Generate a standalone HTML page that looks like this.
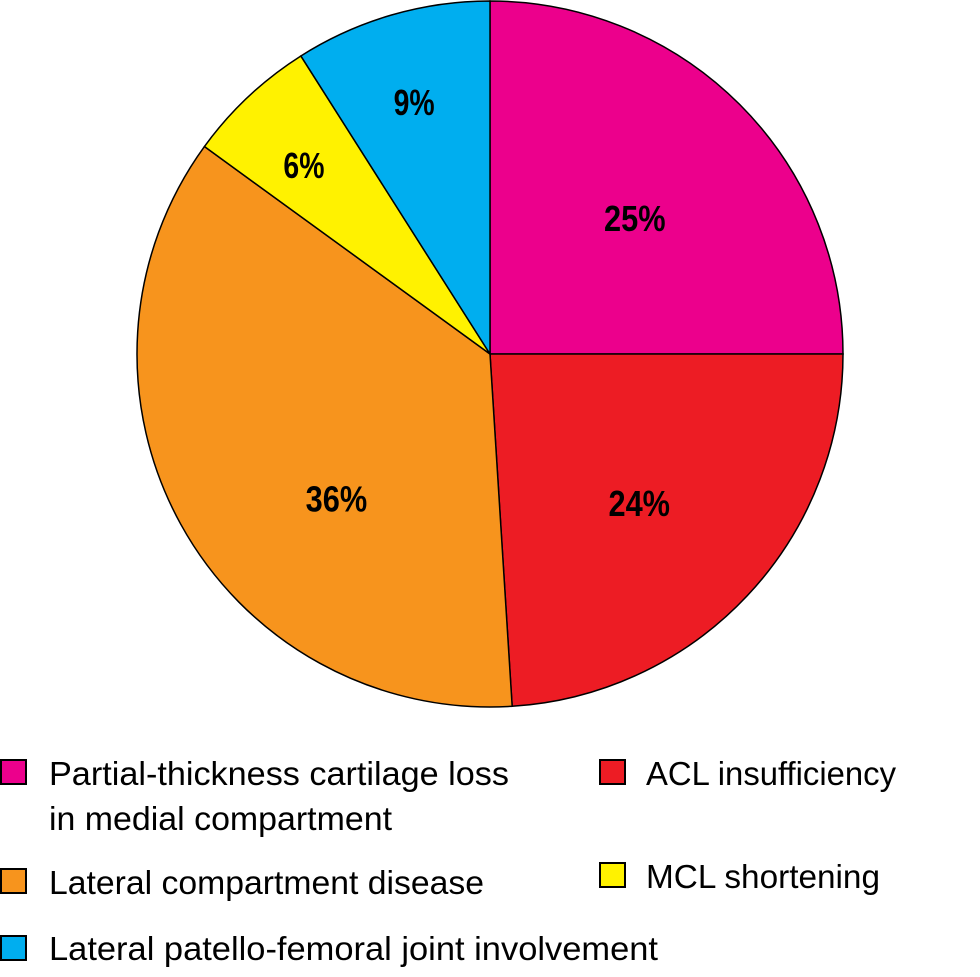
<!DOCTYPE html>
<html><head><meta charset="utf-8"><style>
html,body{margin:0;padding:0;background:#fff;}
svg{display:block;font-family:"Liberation Sans Narrow","Liberation Sans",sans-serif;}
</style></head><body>
<svg id="chart" width="980" height="977" viewBox="0 0 980 977" xmlns="http://www.w3.org/2000/svg">
<g id="slices"></g>
<g id="labels"></g>
<g font-size="33" fill="#000">
  <g>
    <rect x="1" y="760" width="25" height="24" fill="#ec008c" stroke="#000" stroke-width="2"/>
    <text x="49" y="785" textLength="460" lengthAdjust="spacingAndGlyphs">Partial-thickness cartilage loss</text>
    <text x="49" y="830" textLength="343" lengthAdjust="spacingAndGlyphs">in medial compartment</text>
  </g>
  <g>
    <rect x="600" y="760" width="25" height="24" fill="#ed1c24" stroke="#000" stroke-width="2"/>
    <text x="646" y="785" textLength="250" lengthAdjust="spacingAndGlyphs">ACL insufficiency</text>
  </g>
  <g>
    <rect x="1" y="869" width="25" height="24" fill="#f7941d" stroke="#000" stroke-width="2"/>
    <text x="49" y="894" textLength="435" lengthAdjust="spacingAndGlyphs">Lateral compartment disease</text>
  </g>
  <g>
    <rect x="600" y="863" width="25" height="24" fill="#fff200" stroke="#000" stroke-width="2"/>
    <text x="646" y="888" textLength="234" lengthAdjust="spacingAndGlyphs">MCL shortening</text>
  </g>
  <g>
    <rect x="1" y="936" width="25" height="24" fill="#00aeef" stroke="#000" stroke-width="2"/>
    <text x="49" y="960" textLength="609" lengthAdjust="spacingAndGlyphs">Lateral patello-femoral joint involvement</text>
  </g>
</g>
</svg>
<script>
const categories = ["Partial-thickness cartilage loss", "ACL insufficiency", "Lateral compartment disease", "MCL shortening", "Lateral patello-femoral joint involvement"];
const values = [25, 24, 36, 6, 9];
const valueLabels = ["25%", "24%", "36%", "6%", "9%"];
const colors = ["#ec008c", "#ed1c24", "#f7941d", "#fff200", "#00aeef"];
const cx = 490, cy = 354, r = 353;
const NS = "http://www.w3.org/2000/svg";
const total = values.reduce((a, b) => a + b, 0);
const gs = document.getElementById("slices"), gl = document.getElementById("labels");
function pt(frac, rad) { const a = frac * 2 * Math.PI; return [cx + rad * Math.sin(a), cy - rad * Math.cos(a)]; }
let cum = 0;
values.forEach((v, i) => {
  const s = cum / total, e = (cum + v) / total; cum += v;
  const p0 = pt(s, r), p1 = pt(e, r);
  const large = (e - s) > 0.5 ? 1 : 0;
  const path = document.createElementNS(NS, "path");
  path.setAttribute("d", `M${cx},${cy} L${p0[0]},${p0[1]} A${r},${r} 0 ${large} 1 ${p1[0]},${p1[1]} Z`);
  path.setAttribute("fill", colors[i]);
  path.setAttribute("stroke", "#000");
  path.setAttribute("stroke-width", "1.5");
  
  
  gs.appendChild(path);
  const share = v / total;
  const f = share < 0.12 ? 0.77 : 0.58;
  const mid = share > 0.3 ? (s + e) / 2 - 0.035 : (s + e) / 2;
  const lp = pt(mid, r * f);
  const t = document.createElementNS(NS, "text");
  t.setAttribute("x", lp[0]);
  t.setAttribute("y", lp[1] + 22);
  t.setAttribute("text-anchor", "middle");
  t.setAttribute("font-size", "36");
  t.setAttribute("font-weight", "bold");
  t.setAttribute("textLength", valueLabels[i].length * 20.5);
  t.setAttribute("lengthAdjust", "spacingAndGlyphs");
  t.textContent = valueLabels[i];
  
  
  gl.appendChild(t);
});
</script>
</body></html>
